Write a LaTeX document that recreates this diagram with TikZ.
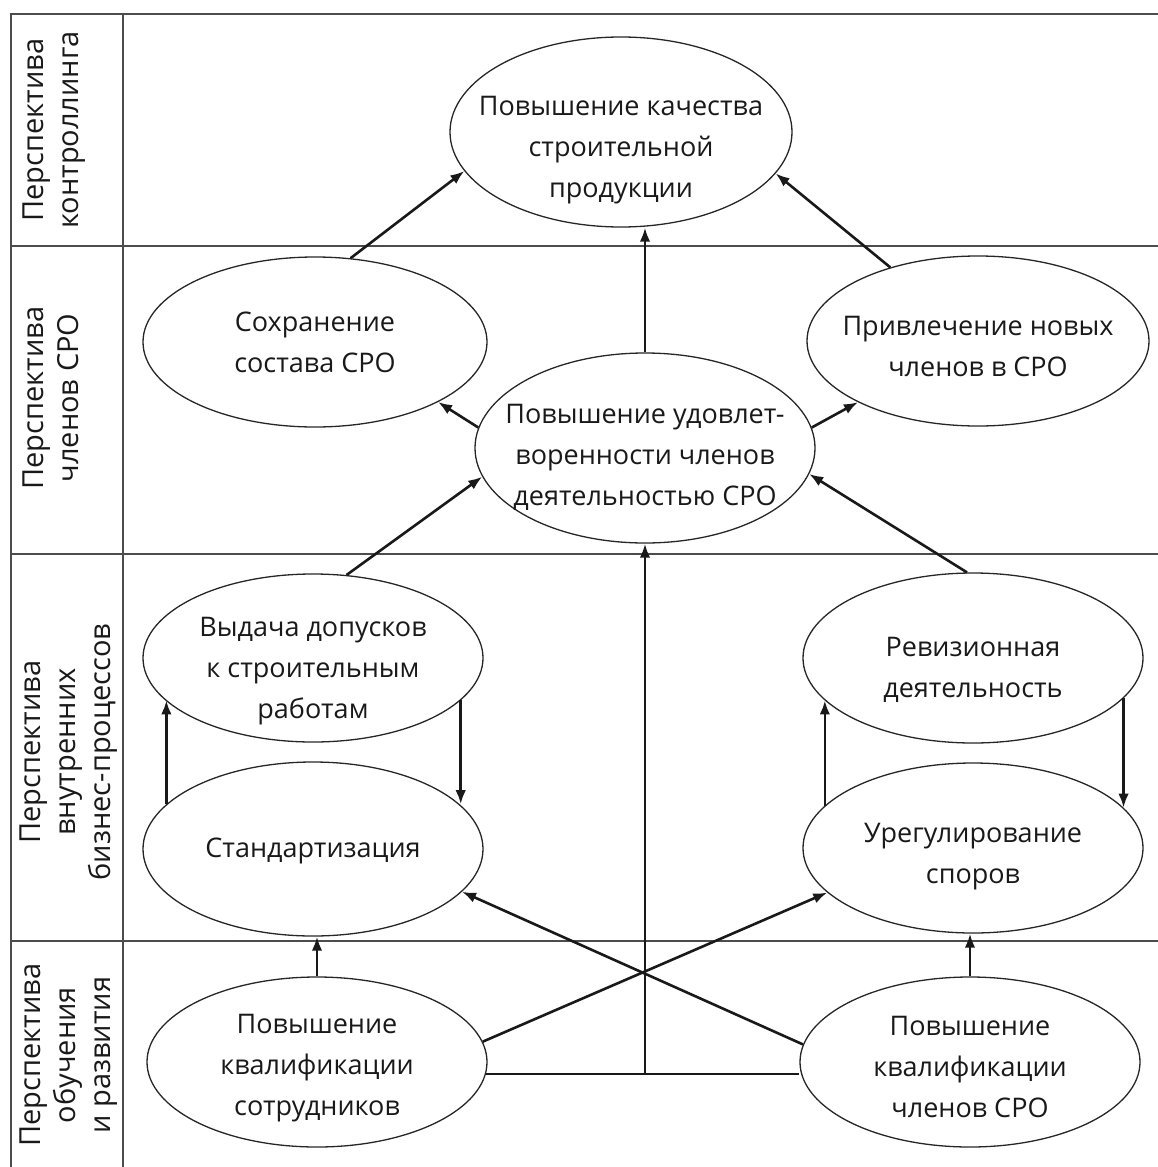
\documentclass[tikz,border=0pt]{standalone}
\usepackage{fontspec}
\setmainfont{Open Sans}
\usetikzlibrary{shapes.geometric,arrows.meta,calc}

\begin{document}
\begin{tikzpicture}[x=1pt,y=-1pt,
  grid/.style={line width=2pt,draw=black!70},
  oval/.style={ellipse,draw=black!85,line width=1.3pt,inner sep=0pt,
               minimum width=340pt,minimum height=170pt},
  txt/.style={align=center,inner sep=0pt,font=\fontsize{27}{41}\selectfont,text=black!90},
  lbl/.style={align=center,inner sep=0pt,font=\fontsize{29}{35}\selectfont,text=black!90,
              rotate=90,anchor=north},
  arr/.style={line width=2.6pt,draw=black!90,-{Latex[length=14pt,width=10.5pt]}},
  link/.style={line width=2.6pt,draw=black!90}]

\useasboundingbox (0,0) rectangle (1158,1167);

% table frame
\draw[grid] (10,14) -- (1158,14);
\draw[grid] (10,246) -- (1158,246);
\draw[grid] (10,554) -- (1158,554);
\draw[grid] (10,941) -- (1158,941);
\draw[grid] (11,14) -- (11,1167);
\draw[grid] (123,14) -- (123,1167);

% perspective labels
\node[lbl] (l1) at (23,130) {Перспектива\\контроллинга};
\node[lbl] (l2) at (23,398) {Перспектива\\членов СРО};
\node[lbl] (l3) at (20,752) {Перспектива\\внутренних\\бизнес-процессов};
\node[lbl] (l4) at (20,1055) {Перспектива\\обучения\\и развития};

% goals
\node[oval,minimum width=342pt,minimum height=190pt,
  label={[txt,yshift=-18pt]center:{Повышение качества\\строительной\\продукции}}] (q) at (621,132) {};
\node[oval,minimum width=344pt,
  label={[txt]center:{Сохранение\\состава СРО}}] (s) at (315,342) {};
\node[oval,minimum width=342pt,
  label={[txt,yshift=-5pt]center:{Привлечение новых\\членов в СРО}}] (p) at (978,341) {};
\node[oval,minimum height=190pt,
  label={[txt,yshift=-9pt]center:{Повышение удовлет-\\воренности членов\\деятельностью СРО}}] (c) at (645,448) {};
\node[oval,minimum height=168pt,
  label={[txt,yshift=-13pt]center:{Выдача допусков\\к строительным\\работам}}] (v) at (313,658) {};
\node[oval,minimum height=174pt,
  label={[txt,yshift=-2pt]center:{Стандартизация}}] (st) at (313,849) {};
\node[oval,
  label={[txt,yshift=-12pt]center:{Ревизионная\\деятельность}}] (r) at (973,658) {};
\node[oval,
  label={[txt,yshift=-9pt]center:{Урегулирование\\споров}}] (u) at (973,848) {};
\node[oval,
  label={[txt,yshift=-6pt]center:{Повышение\\квалификации\\сотрудников}}] (bl) at (317,1062) {};
\node[oval,
  label={[txt,yshift=-5pt]center:{Повышение\\квалификации\\членов СРО}}] (br) at (970,1062) {};

% links between goals
\draw[arr] (s.67) -- (q.194);
\draw[arr] (p.140) -- (q.345);
\draw[arr] (c.north) -- (c.north |- q.south);
\draw[arr] (c.173) -- (s.334);
\draw[arr] (c.7) -- (p.207);
\draw[arr] (v.68) -- (c.190);
\draw[arr] (r.94) -- (c.351);

\draw[arr] (st.163) -- (st.163 |- v.196);
\draw[arr] (v.344) -- (v.344 |- st.17);
\draw[arr] (u.164) -- (u.164 |- r.196);
\draw[arr] (r.345) -- (r.345 |- u.15);

\draw[arr] (bl.north) -- (bl.north |- st.south);
\draw[arr] (br.north) -- (br.north |- u.south);
\draw[arr] (bl.7) -- (u.197);
\draw[arr] (br.174) -- (st.344);

\coordinate (j) at (bl.356 -| c.south);
\draw[link] (bl.356) -- (bl.356 -| br.west);
\draw[arr] (j) -- (c.south);

\end{tikzpicture}
\end{document}
